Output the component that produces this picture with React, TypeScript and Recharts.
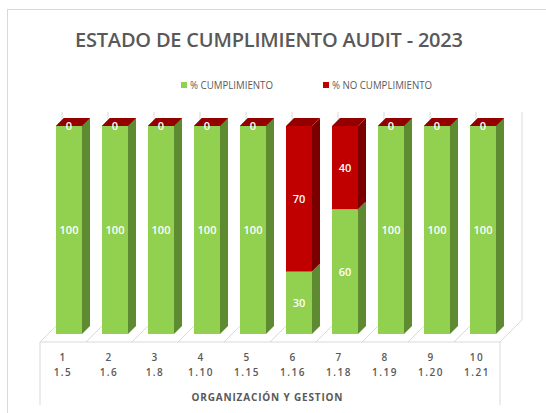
import { BarChart, Bar, XAxis, YAxis, LabelList } from "recharts";

const categories = ["1", "2", "3", "4", "5", "6", "7", "8", "9", "10"];
const subLabels = ["1.5", "1.6", "1.8", "1.10", "1.15", "1.16", "1.18", "1.19", "1.20", "1.21"];
const cumplimiento = [100, 100, 100, 100, 100, 30, 60, 100, 100, 100];
const noCumplimiento = [0, 0, 0, 0, 0, 70, 40, 0, 0, 0];

const data = categories.map((c, i) => ({
  name: c,
  sub: subLabels[i],
  cumple: cumplimiento[i],
  noCumple: noCumplimiento[i],
}));

const W = 546;
const H = 413;
const margin = { top: 126, right: 40, bottom: 19, left: 46 };
const plotLeft = margin.left;
const plotRight = W - margin.right;
const plotBottom = 334;
const plotTop = margin.top;
const DEPTH = 8;
const GREY = "#595959";
const LINE = "#d9d9d9";

const box = (x: number, y: number, w: number, h: number, front: string, side: string) => (
  <>
    <rect x={x} y={y} width={w} height={h} fill={front} />
    <polygon
      points={`${x + w},${y} ${x + w + DEPTH},${y - DEPTH} ${x + w + DEPTH},${y + h - DEPTH} ${x + w},${y + h}`}
      fill={side}
    />
  </>
);

const topFace = (x: number, y: number, w: number, color: string) => (
  <polygon
    points={`${x},${y} ${x + DEPTH},${y - DEPTH} ${x + w + DEPTH},${y - DEPTH} ${x + w},${y}`}
    fill={color}
  />
);

const GreenBar = (props: any) => {
  const { x, y, width, height, payload } = props;
  return (
    <g>
      {box(x, y, width, height, "#92D050", "#5E8B32")}
      {payload.noCumple === 0 && topFace(x, y, width, "#8B0000")}
    </g>
  );
};

const RedBar = (props: any) => {
  const { x, y, width, height } = props;
  return (
    <g>
      {height > 0 && box(x, y, width, height, "#C00000", "#7A0000")}
      {topFace(x, y, width, "#930000")}
    </g>
  );
};

const CategoryTick = (props: any) => {
  const { x, y, payload, index } = props;
  return (
    <g transform={`translate(${x - 6},${y})`}>
      <text textAnchor="middle" y={27} fontSize={10} fontWeight={600} fill={GREY} letterSpacing={1.5}>
        {payload.value}
      </text>
      <text textAnchor="middle" y={42} fontSize={10} fontWeight={600} fill={GREY} letterSpacing={1.5}>
        {subLabels[index]}
      </text>
    </g>
  );
};

const Scenery = () => {
  const n = categories.length;
  const step = (plotRight - plotLeft) / n;
  const fx = plotLeft - 6;
  const fy = plotBottom + 8;
  const bx = plotLeft + 16;
  const by = plotBottom - 14;
  const wallTop = plotTop - 14;
  return (
    <g>
      <rect x={7.5} y={9.5} width={600} height={450} fill="#fff" stroke={LINE} />
      {Array.from({ length: n + 1 }).map((_, k) => (
        <line key={`bw${k}`} x1={bx + step * k} y1={wallTop} x2={bx + step * k} y2={by} stroke={LINE} />
      ))}
      {Array.from({ length: n + 1 }).map((_, k) => (
        <line key={`fl${k}`} x1={fx + step * k} y1={fy} x2={bx + step * k} y2={by} stroke={LINE} />
      ))}
      <line x1={fx} y1={fy} x2={fx + step * n} y2={fy} stroke={LINE} />
      <line x1={fx} y1={fy} x2={fx} y2={405} stroke={LINE} />
      <line x1={fx + step * n} y1={fy} x2={fx + step * n} y2={405} stroke={LINE} />
      <text x={269} y={47} textAnchor="middle" fontSize={20} fontWeight={600} fill={GREY} textLength={388} lengthAdjust="spacing">
        ESTADO DE CUMPLIMIENTO AUDIT - 2023
      </text>
      <rect x={181} y={82} width={6} height={6} fill="#92D050" />
      <text x={190} y={89} fontSize={11} fill={GREY} textLength={83} lengthAdjust="spacingAndGlyphs">
        % CUMPLIMIENTO
      </text>
      <rect x={323} y={82} width={6} height={6} fill="#C00000" />
      <text x={332} y={89} fontSize={11} fill={GREY} textLength={100} lengthAdjust="spacingAndGlyphs">
        % NO CUMPLIMIENTO
      </text>
      <text x={267} y={401} textAnchor="middle" fontSize={10} fontWeight={700} fill={GREY} textLength={151} lengthAdjust="spacing">
        ORGANIZACIÓN Y GESTION
      </text>
    </g>
  );
};

export default function App() {
  return (
    <div style={{ position: "absolute", left: 0, top: 0, fontFamily: "'Open Sans', sans-serif" }}>
      <BarChart width={W} height={H} data={data} margin={margin} barSize={26}>
        <Scenery />
        <XAxis
          dataKey="name"
          axisLine={false}
          tickLine={false}
          tickSize={0}
          tickMargin={0}
          height={60}
          interval={0}
          tick={<CategoryTick />}
        />
        <YAxis hide domain={[0, 100]} />
        <Bar dataKey="cumple" stackId="a" shape={<GreenBar />} isAnimationActive={false}>
          <LabelList dataKey="cumple" position="center" fill="#fff" fontSize={11} fontWeight={600} />
        </Bar>
        <Bar dataKey="noCumple" stackId="a" shape={<RedBar />} isAnimationActive={false}>
          <LabelList dataKey="noCumple" position="center" fill="#fff" fontSize={11} fontWeight={600} />
        </Bar>
      </BarChart>
    </div>
  );
}
